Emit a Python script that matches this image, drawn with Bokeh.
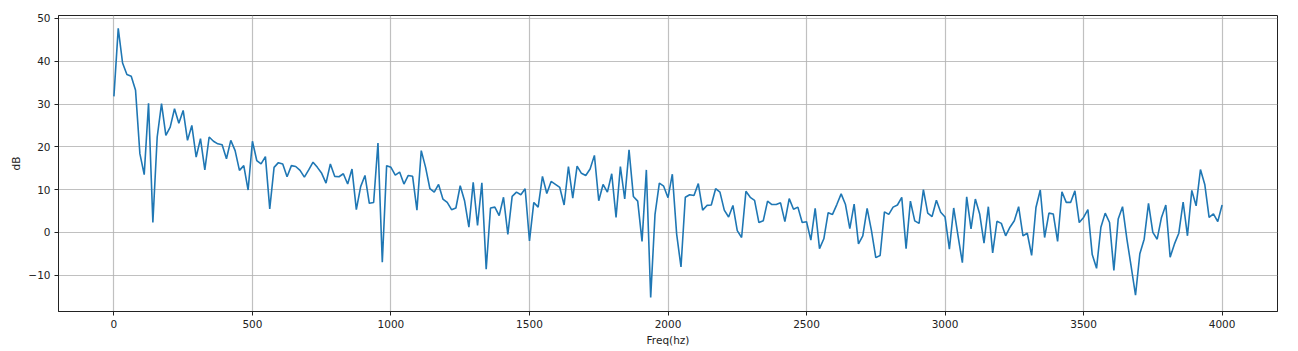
import numpy as np
from bokeh.plotting import figure
from bokeh.models import FixedTicker, Range1d
from bokeh.embed import file_html
from bokeh.resources import INLINE

# magnitude spectrum (dB), 257 bins from 0 to 4000 Hz
db_0_63 = [31.8, 47.7, 39.6, 36.9, 36.5, 33.2, 18.4, 13.5, 30.2, 2.3, 22.3, 30.1, 22.7, 24.6, 28.9, 25.5,
           28.5, 21.5, 25.0, 17.6, 21.9, 14.6, 22.3, 21.3, 20.7, 20.5, 17.2, 21.5, 19.1, 14.5, 15.6, 9.9,
           21.3, 16.8, 16.0, 17.7, 5.5, 15.2, 16.3, 16.0, 13.0, 15.6, 15.4, 14.5, 12.9, 14.6, 16.4, 15.2,
           13.8, 11.5, 16.0, 13.1, 13.0, 13.7, 11.3, 14.8, 5.3, 10.7, 13.3, 6.8, 7.0, 20.9, -7.0, 15.6]
db_64_127 = [15.2, 13.4, 14.1, 11.3, 13.3, 13.1, 5.2, 19.1, 15.2, 10.2, 9.4, 11.2, 7.8, 7.0, 5.3, 5.7,
             10.9, 7.4, 1.2, 11.7, 1.6, 11.6, -8.6, 5.7, 5.9, 3.9, 8.2, -0.5, 8.4, 9.4, 8.8, 10.2,
             -2.0, 7.0, 5.9, 13.1, 9.1, 11.9, 11.2, 10.5, 6.4, 15.4, 8.0, 15.5, 13.8, 13.3, 14.8, 18.0,
             7.4, 11.2, 9.4, 13.7, 3.5, 15.4, 7.8, 19.3, 8.4, 7.3, -2.1, 14.6, -15.2, 4.2, 11.5, 10.8]
db_128_191 = [8.1, 13.6, -0.4, -8.1, 8.2, 8.8, 8.6, 11.4, 5.2, 6.3, 6.4, 10.2, 9.4, 5.2, 3.6, 6.3,
              0.4, -1.2, 9.6, 8.2, 7.5, 2.3, 2.7, 7.3, 6.5, 6.5, 6.9, 2.5, 7.9, 5.4, 5.9, 2.3,
              2.5, -1.8, 5.6, -3.8, -1.5, 4.6, 4.2, 6.5, 9.0, 6.5, 0.9, 6.6, -2.7, -0.8, 5.6, 0.4,
              -5.9, -5.4, 4.8, 4.2, 5.9, 6.4, 8.2, -3.8, 7.3, 2.7, 2.1, 10.0, 4.5, 3.7, 7.5, 4.7]
db_192_256 = [3.6, -3.9, 5.7, -0.8, -7.1, 8.3, 0.8, 7.8, 4.3, -2.5, 6.0, -4.8, 2.6, 2.1, -0.8, 1.2,
              2.7, 6.0, -0.8, -0.2, -5.4, 5.8, 9.9, -1.2, 4.5, 4.3, -2.1, 9.5, 7.0, 7.0, 9.7, 2.3,
              3.5, 5.3, -5.2, -8.4, 1.2, 4.5, 2.3, -8.9, 3.1, 6.0, -1.5, -8.0, -14.7, -5.0, -1.6, 6.8,
              0.0, -1.6, 3.5, 6.4, -5.8, -2.7, -0.2, 7.1, -0.8, 9.8, 6.2, 14.7, 11.2, 3.5, 4.3, 2.5,
              6.4]

db = db_0_63 + db_64_127 + db_128_191 + db_192_256
freq = np.linspace(0, 4000, len(db))

x_ticks = [0, 500, 1000, 1500, 2000, 2500, 3000, 3500, 4000]
y_ticks = [-10, 0, 10, 20, 30, 40, 50]

p = figure(width=1290, height=348, output_backend="svg", toolbar_location=None,
           x_range=Range1d(-200, 4200), y_range=Range1d(-18.5, 50.7),
           min_border_left=58, min_border_right=13, min_border_top=15, min_border_bottom=37)

p.line(freq, db, line_color="#1f77b4", line_width=1.6)

p.xaxis.ticker = FixedTicker(ticks=x_ticks)
p.yaxis.ticker = FixedTicker(ticks=y_ticks)
p.yaxis.major_label_overrides = {-10: "\u221210"}
p.xaxis.axis_label = "Freq(hz)"
p.yaxis.axis_label = "dB"

for ax in (p.xaxis[0], p.yaxis[0]):
    ax.major_label_text_font = "DejaVu Sans"
    ax.major_label_text_font_size = "10.5px"
    ax.major_label_text_color = "#222222"
    ax.axis_label_text_font = "DejaVu Sans"
    ax.axis_label_text_font_size = "10.5px"
    ax.axis_label_text_font_style = "normal"
    ax.axis_label_text_color = "#222222"
    ax.major_tick_out = 4
    ax.major_tick_in = 0
    ax.minor_tick_out = 0
    ax.minor_tick_in = 0
    ax.major_tick_line_color = "#222222"
    ax.axis_line_color = "#222222"
    ax.major_label_standoff = 4
    ax.axis_label_standoff = 3

p.outline_line_color = "#222222"
p.outline_line_width = 1
p.outline_line_alpha = 1

p.grid.grid_line_color = "#b0b0b0"
p.grid.grid_line_alpha = 0.8
p.grid.grid_line_width = 1.2
p.xgrid.ticker = FixedTicker(ticks=x_ticks)
p.ygrid.ticker = FixedTicker(ticks=y_ticks)

p.background_fill_color = "white"
p.border_fill_color = "white"

open("out.html", "w").write(file_html(p, INLINE))
